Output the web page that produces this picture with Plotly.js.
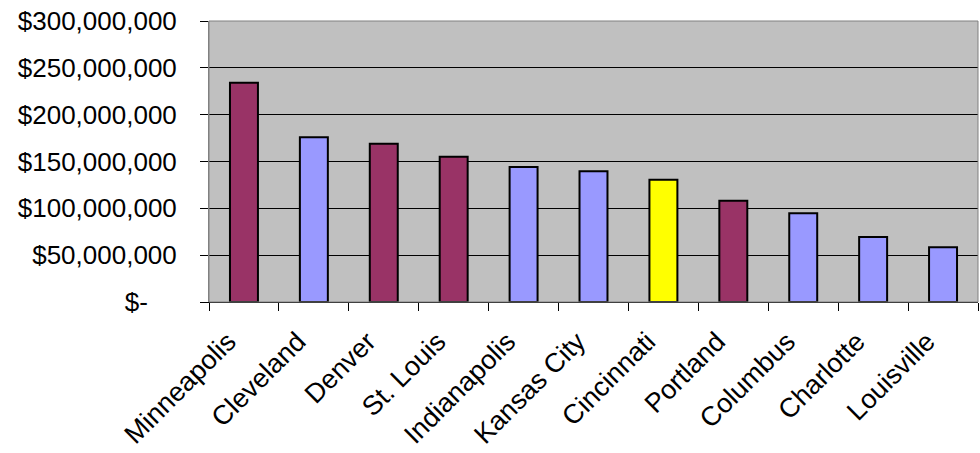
<!DOCTYPE html>
<html>
<head>
<meta charset="utf-8">
<script src="https://cdn.plot.ly/plotly-3.0.1.min.js"></script>
<style>
  html, body { margin: 0; padding: 0; background: #ffffff; }
  #chart { width: 980px; height: 453px; }
</style>
</head>
<body>
<div id="chart"></div>
<script>
// City totals in dollars
const cities = ["Minneapolis", "Cleveland", "Denver", "St. Louis", "Indianapolis",
                "Kansas City", "Cincinnati", "Portland", "Columbus", "Charlotte", "Louisville"];
const amounts = [234000000, 176000000, 169000000, 155000000, 144000000,
                 139500000, 130500000, 108000000, 94700000, 69500000, 58500000];
// Group of each city: "a" = maroon, "b" = periwinkle, "c" = highlighted
const groups = ["a", "b", "a", "a", "b", "b", "c", "a", "b", "b", "b"];

const yTickVals = [0, 50000000, 100000000, 150000000, 200000000, 250000000, 300000000];
const yTickText = ["$-\u00a0\u00a0\u00a0\u00a0", "$50,000,000", "$100,000,000", "$150,000,000",
                   "$200,000,000", "$250,000,000", "$300,000,000"];

const groupColors = { a: "#993366", b: "#9999FF", c: "#FFFF00" };

const font = "Arial, 'Liberation Sans', sans-serif";

const trace = {
  type: "bar",
  x: cities,
  y: amounts,
  width: 0.4,
  marker: {
    color: groups.map(g => groupColors[g]),
    line: { color: "#000000", width: 2 }
  },
  hoverinfo: "x+y"
};

const layout = {
  width: 980,
  height: 453,
  margin: { l: 209, r: 2, t: 21, b: 151, pad: 0 },
  paper_bgcolor: "#ffffff",
  plot_bgcolor: "#C0C0C0",
  showlegend: false,
  bargap: 0.6,
  font: { family: font, color: "#000000", size: 26 },
  xaxis: {
    type: "category",
    tickson: "boundaries",
    ticks: "outside",
    ticklen: 8,
    tickcolor: "#000000",
    tickwidth: 1,
    tickangle: -45,
    ticklabelstandoff: 12,
    ticklabelshift: -16,
    showgrid: false,
    showline: true,
    linecolor: "#000000",
    linewidth: 1,
    tickfont: { family: font, size: 27, color: "#000000" },
    fixedrange: true
  },
  yaxis: {
    range: [0, 300000000],
    tickmode: "array",
    tickvals: yTickVals,
    ticktext: yTickText,
    ticks: "outside",
    ticklen: 8,
    tickcolor: "#000000",
    tickwidth: 1,
    ticklabelstandoff: 18,
    showgrid: true,
    gridcolor: "#000000",
    gridwidth: 1,
    zeroline: false,
    showline: true,
    linecolor: "#808080",
    linewidth: 1,
    tickfont: { family: font, size: 26, color: "#000000" },
    fixedrange: true
  },
  shapes: [{
    type: "rect", xref: "paper", yref: "paper",
    x0: 0, x1: 1, y0: 0, y1: 1,
    line: { color: "#808080", width: 1 },
    fillcolor: "rgba(0,0,0,0)",
    layer: "above"
  }]
};

Plotly.newPlot("chart", [trace], layout, { staticPlot: true, displayModeBar: false });
</script>
</body>
</html>
